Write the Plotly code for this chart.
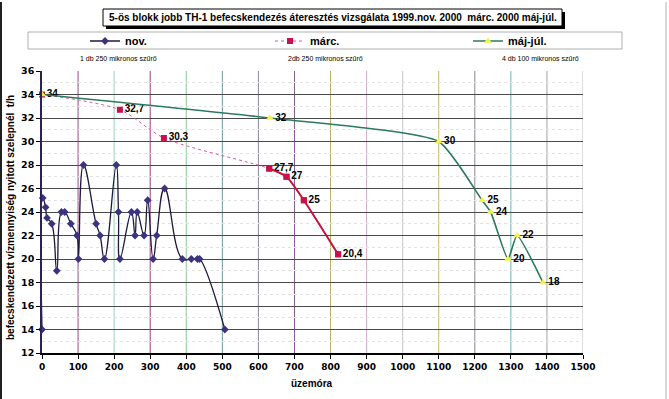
import plotly.graph_objects as go

# ---------------- data ----------------
NOV_X = [0, 2, 10, 14, 27, 41, 54, 63, 80, 97, 101, 115, 150, 161, 173, 206, 212, 216,
         248, 258, 264, 283, 293, 308, 318, 340, 389, 414, 431, 437, 507]
NOV_Y = [14, 25.2, 24.4, 23.5, 23, 19, 24, 24, 23, 22, 20, 28, 23, 22, 20, 28, 24, 20,
         24, 22, 24, 22, 25, 20, 22, 26, 20, 20, 20, 20, 14]

MARC_X = [0, 216, 338, 630, 678, 726, 821]
MARC_Y = [34, 32.7, 30.3, 27.7, 27, 25, 20.4]

MAJ_X = [0, 632, 1100, 1220, 1244, 1292, 1317, 1389]
MAJ_Y = [34, 32, 30, 25, 24, 20, 22, 18]

SERIES_NAMES = ["nov.", "márc.", "máj-júl."]
TITLE = "5-ös blokk jobb TH-1 befecskendezés áteresztés vizsgálata 1999.nov. 2000  márc. 2000 máj-júl."
NOTES = ["1 db 250 mikronos szűrő", "2db 250 mikronos szűrő", "4 db 100 mikronos szűrő"]
X_TICKS = list(range(0, 1501, 100))
Y_TICKS = list(range(12, 37, 2))
X_TITLE = "üzemóra"
Y_TITLE = "befecskendezett vízmennyiség nyitott szelepnél  t/h"


def fmt(v):
    return ("%g" % v).replace(".", ",")


MARC_TXT = [fmt(v) for v in MARC_Y]
MAJ_TXT = [""] + [fmt(v) for v in MAJ_Y[1:]]

# ---------------- geometry (pixel -> paper) ----------------
W, H = 669, 399
L, T = 42, 71
PW, PH = 541, 282
R, B = W - L - PW, H - T - PH


def px(xp):
    return (xp - L) / PW


def py(yp):
    return (T + PH - yp) / PH


FONT = "Liberation Sans, Arial, sans-serif"
TICKFONT = "DejaVu Sans, Verdana, sans-serif"

fig = go.Figure()

# nov.
fig.add_trace(go.Scatter(
    x=NOV_X, y=NOV_Y, name=SERIES_NAMES[0], mode="lines+markers",
    line=dict(color="#1c1840", width=1.3, shape="spline", smoothing=1.3),
    marker=dict(symbol="diamond", size=6, color="#3b3380", line=dict(width=0)),
    cliponaxis=False, legend="legend",
))

# márc. : full series with thin dotted pink line, markers, labels
fig.add_trace(go.Scatter(
    x=MARC_X, y=MARC_Y, name=SERIES_NAMES[1], mode="lines+markers+text",
    line=dict(color="#e050b0", width=1, dash="dot", shape="spline", smoothing=0.8),
    marker=dict(symbol="square", size=6, color="#c8104a"),
    text=MARC_TXT, textposition="middle right",
    textfont=dict(family=FONT, size=10, color="black", weight="bold"),
    cliponaxis=False, legend="legend2",
))
# márc. : thick red part over the later points
fig.add_trace(go.Scatter(
    x=MARC_X[3:], y=MARC_Y[3:], mode="lines+markers", showlegend=False, hoverinfo="skip",
    line=dict(color="#c4123e", width=2, shape="spline", smoothing=0.6),
    marker=dict(symbol="square", size=6, color="#c8104a"),
    cliponaxis=False,
))

# máj-júl.
fig.add_trace(go.Scatter(
    x=MAJ_X, y=MAJ_Y, name=SERIES_NAMES[2], mode="lines+markers+text",
    line=dict(color="#2a7a5c", width=1.6, shape="spline", smoothing=0.5),
    marker=dict(symbol="triangle-up", size=7, color="#f4f04a"),
    text=MAJ_TXT, textposition="middle right",
    textfont=dict(family=FONT, size=10, color="black", weight="bold"),
    cliponaxis=False, legend="legend3",
))

# vertical gridlines with the scanned, uneven colours
GRID_COLORS = ["#a04a86", "#9ccfb8", "#a33a7c", "#8cc89a", "#6a9c98", "#8a88a4",
               "#8a5a90", "#b8b060", "#d4a8c8", "#c4c4d4", "#c8b860", "#888890",
               "#6ab4b4", "#a0a0a8", "#b8b8c0"]
shapes = []
for xv, c in zip(X_TICKS[1:], GRID_COLORS):
    shapes.append(dict(type="line", xref="x", yref="paper", x0=xv, x1=xv, y0=0, y1=1,
                       line=dict(color=c, width=1), layer="below"))

# title box with shadow
shapes.append(dict(type="rect", xref="paper", yref="paper",
                   x0=px(106), x1=px(565), y0=py(29), y1=py(12),
                   fillcolor="black", line=dict(width=0), layer="above"))
shapes.append(dict(type="rect", xref="paper", yref="paper",
                   x0=px(103), x1=px(562), y0=py(26), y1=py(9),
                   fillcolor="white", line=dict(color="black", width=1), layer="above"))
# legend frame
shapes.append(dict(type="rect", xref="paper", yref="paper",
                   x0=px(28), x1=px(622), y0=py(49), y1=py(32),
                   fillcolor="white", line=dict(color="#b0b0b0", width=1), layer="above"))
# scan frame: dark left edge, light right edge
shapes.append(dict(type="line", xref="paper", yref="paper",
                   x0=px(1), x1=px(1), y0=py(399), y1=py(2),
                   line=dict(color="#202020", width=2), layer="below"))
shapes.append(dict(type="line", xref="paper", yref="paper",
                   x0=px(666), x1=px(666), y0=py(399), y1=py(2),
                   line=dict(color="#b0b0b0", width=1), layer="below"))

annotations = [
    dict(text="<b>" + TITLE + "</b>", xref="paper", yref="paper", x=px(333), y=py(17.5),
         showarrow=False, font=dict(family=FONT, size=10, color="black"),
         xanchor="center", yanchor="middle"),
    dict(text="<b>" + X_TITLE + "</b>", xref="paper", yref="paper", x=px(312), y=py(383),
         showarrow=False, font=dict(family=FONT, size=10, color="black"),
         xanchor="center", yanchor="middle"),
    dict(text="<b>" + Y_TITLE + "</b>", xref="paper", yref="paper", x=px(11), y=py(218),
         showarrow=False, textangle=-90, font=dict(family=FONT, size=10, color="black"),
         xanchor="center", yanchor="middle"),
]
for note, xc in zip(NOTES, [118, 325, 540]):
    annotations.append(dict(text=note, xref="paper", yref="paper", x=px(xc), y=py(58),
                            showarrow=False, font=dict(family=FONT, size=7, color="black"),
                            xanchor="center", yanchor="middle"))

leg_common = dict(orientation="h", yref="paper", xanchor="left", yanchor="middle",
                  bgcolor="rgba(0,0,0,0)", borderwidth=0,
                  font=dict(family=FONT, size=11, color="black", weight="bold"),
                  itemwidth=30, tracegroupgap=0)

fig.update_layout(
    width=W, height=H,
    margin=dict(l=L, r=R, t=T, b=B),
    paper_bgcolor="white", plot_bgcolor="white",
    showlegend=True,
    legend=dict(x=px(85), y=py(41), **leg_common),
    legend2=dict(x=px(270), y=py(41), **leg_common),
    legend3=dict(x=px(468), y=py(41), **leg_common),
    shapes=shapes,
    annotations=annotations,
    xaxis=dict(range=[0, 1500], tickvals=X_TICKS, ticktext=[str(v) for v in X_TICKS],
               showgrid=False, zeroline=False,
               showline=True, linecolor="black", linewidth=1.5, mirror=False,
               ticks="outside", ticklen=4, tickcolor="black",
               tickfont=dict(family=TICKFONT, size=9, color="black", weight="bold")),
    yaxis=dict(range=[12, 36], tickvals=Y_TICKS, ticktext=[str(v) for v in Y_TICKS],
               showgrid=True, gridcolor="#4a4a4a", gridwidth=1, zeroline=False,
               minor=dict(dtick=1, showgrid=True, gridcolor="#e2e2e2", griddash="dot"),
               showline=True, linecolor="#2a2250", linewidth=1.5,
               ticks="outside", ticklen=4, tickcolor="black",
               tickfont=dict(family=TICKFONT, size=9.5, color="black", weight="bold")),
)

# remove the default page margin so the figure fills the 669x399 window exactly
fig.write_html("out.html",
               config={"displayModeBar": False},
               post_script="document.body.style.margin='0';document.body.style.overflow='hidden';")
